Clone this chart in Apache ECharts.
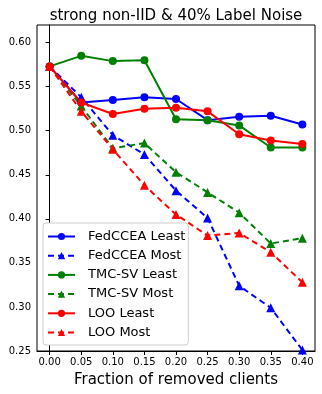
<!DOCTYPE html>
<html>
<head>
<meta charset="utf-8">
<script src="https://cdn.jsdelivr.net/npm/echarts@6/dist/echarts.min.js"></script>
<style>
  html, body { margin: 0; padding: 0; background: #fff; }
  #chart { width: 322px; height: 394px; }
</style>
</head>
<body>
<div id="chart"></div>
<script>
const fractions = [0.00, 0.05, 0.10, 0.15, 0.20, 0.25, 0.30, 0.35, 0.40];
const xTicks = [0.00, 0.05, 0.10, 0.15, 0.20, 0.25, 0.30, 0.35, 0.40];
const yTicks = [0.25, 0.30, 0.35, 0.40, 0.45, 0.50, 0.55, 0.60];

const fedcceaLeast = [0.573, 0.532, 0.535, 0.538, 0.536, 0.512, 0.516, 0.517, 0.507];
const fedcceaMost = [0.573, 0.538, 0.495, 0.473, 0.432, 0.401, 0.324, 0.299, 0.251];
const tmcLeast = [0.573, 0.585, 0.579, 0.580, 0.513, 0.512, 0.506, 0.481, 0.481];
const tmcMost = [0.573, 0.528, 0.480, 0.486, 0.453, 0.430, 0.407, 0.372, 0.378];
const looLeast = [0.573, 0.532, 0.519, 0.525, 0.526, 0.522, 0.496, 0.489, 0.485];
const looMost = [0.573, 0.522, 0.479, 0.438, 0.405, 0.381, 0.384, 0.362, 0.328];

const FONT = 'DejaVu Sans';

function makeSeries(name, values, color, most) {
  return {
    name: name,
    type: 'line',
    data: fractions.map((x, i) => [x, values[i]]),
    symbol: most ? 'triangle' : 'circle',
    symbolSize: most ? 9 : 8,
    showSymbol: true,
    lineStyle: {
      color: color,
      width: 2,
      type: most ? [6, 4] : 'solid'
    },
    itemStyle: { color: color },
    emphasis: { disabled: true },
    animation: false
  };
}

const chart = echarts.init(document.getElementById('chart'));
chart.setOption({
  animation: false,
  title: {
    text: 'strong non-IID & 40% Label Noise',
    left: 171,
    textAlign: 'center',
    top: 4,
    textStyle: { fontFamily: FONT, fontSize: 15, fontWeight: 'normal', color: '#000' }
  },
  grid: {
    left: 37,
    right: 7,
    top: 25,
    bottom: 43,
    show: true,
    borderColor: '#000',
    borderWidth: 1,
    containLabel: false,
    outerBoundsMode: 'none'
  },
  legend: {
    orient: 'vertical',
    left: 43,
    top: 223,
    itemWidth: 27,
    itemHeight: 9,
    itemGap: 6.2,
    padding: [7, 3, 6, 4],
    backgroundColor: '#fff',
    borderColor: '#ccc',
    borderWidth: 1,
    borderRadius: 3,
    textStyle: { fontFamily: FONT, fontSize: 13, color: '#000', padding: [0, 0, 0, 8] },
    data: ['FedCCEA Least', 'FedCCEA Most', 'TMC-SV Least', 'TMC-SV Most', 'LOO Least', 'LOO Most']
  },
  xAxis: {
    type: 'value',
    min: -0.02,
    max: 0.42,
    name: 'Fraction of removed clients',
    nameLocation: 'middle',
    nameGap: 22,
    nameTextStyle: { fontFamily: FONT, fontSize: 15, color: '#000' },
    axisLine: { show: true, lineStyle: { color: '#000' } },
    axisTick: { show: true, length: 4, customValues: xTicks, lineStyle: { color: '#000' } },
    axisLabel: {
      customValues: xTicks,
      fontFamily: FONT,
      fontSize: 10,
      color: '#000',
      margin: 6,
      formatter: v => v.toFixed(2)
    },
    splitLine: { show: false }
  },
  yAxis: {
    type: 'value',
    min: 0.25,
    max: 0.62,
    axisLine: { show: true, lineStyle: { color: '#000' } },
    axisTick: { show: true, length: 4, customValues: yTicks, lineStyle: { color: '#000' } },
    axisLabel: {
      customValues: yTicks,
      fontFamily: FONT,
      fontSize: 10,
      color: '#000',
      margin: 6,
      formatter: v => v.toFixed(2)
    },
    splitLine: { show: false }
  },
  series: [
    makeSeries('FedCCEA Least', fedcceaLeast, '#0000ff', false),
    makeSeries('FedCCEA Most', fedcceaMost, '#0000ff', true),
    makeSeries('TMC-SV Least', tmcLeast, '#008000', false),
    makeSeries('TMC-SV Most', tmcMost, '#008000', true),
    makeSeries('LOO Least', looLeast, '#ff0000', false),
    makeSeries('LOO Most', looMost, '#ff0000', true)
  ]
});
</script>
</body>
</html>
